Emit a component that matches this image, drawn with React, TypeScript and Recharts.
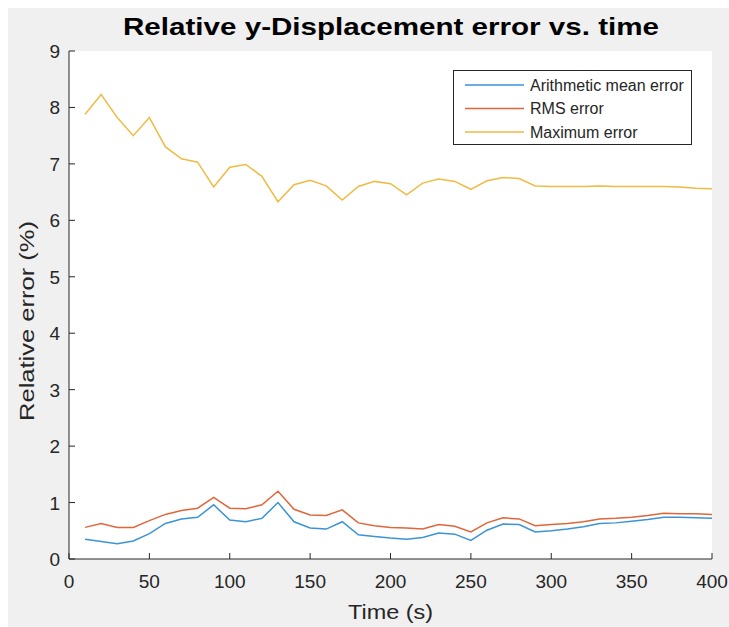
import React from 'react';
import { LineChart, Line, XAxis, YAxis, CartesianGrid, Legend } from 'recharts';

const timeS = [10, 20, 30, 40, 50, 60, 70, 80, 90, 100, 110, 120, 130, 140, 150, 160, 170, 180, 190, 200, 210, 220, 230, 240, 250, 260, 270, 280, 290, 300, 310, 320, 330, 340, 350, 360, 370, 380, 390, 400];
const meanErr = [0.35, 0.31, 0.27, 0.32, 0.45, 0.63, 0.71, 0.74, 0.96, 0.69, 0.66, 0.72, 1.0, 0.66, 0.55, 0.53, 0.66, 0.43, 0.4, 0.37, 0.35, 0.38, 0.46, 0.44, 0.33, 0.51, 0.62, 0.61, 0.48, 0.5, 0.53, 0.57, 0.63, 0.64, 0.67, 0.7, 0.74, 0.74, 0.73, 0.72];
const rmsErr = [0.56, 0.63, 0.56, 0.56, 0.68, 0.79, 0.86, 0.9, 1.09, 0.9, 0.89, 0.96, 1.2, 0.88, 0.78, 0.77, 0.87, 0.64, 0.59, 0.56, 0.55, 0.53, 0.61, 0.58, 0.48, 0.64, 0.73, 0.71, 0.59, 0.61, 0.63, 0.66, 0.71, 0.72, 0.74, 0.77, 0.81, 0.8, 0.8, 0.79];
const maxErr = [7.88, 8.23, 7.82, 7.5, 7.82, 7.3, 7.09, 7.03, 6.59, 6.94, 6.99, 6.78, 6.33, 6.63, 6.71, 6.61, 6.36, 6.6, 6.69, 6.65, 6.45, 6.66, 6.73, 6.69, 6.55, 6.7, 6.76, 6.74, 6.61, 6.6, 6.6, 6.6, 6.61, 6.6, 6.6, 6.6, 6.6, 6.59, 6.57, 6.56];

const xTicks = [0, 50, 100, 150, 200, 250, 300, 350, 400];
const yTicks = [0, 1, 2, 3, 4, 5, 6, 7, 8, 9];
const seriesNames = ['Arithmetic mean error', 'RMS error', 'Maximum error'];
const seriesKeys = ['mean', 'rms', 'max'];
const seriesColors = ['#3b93d8', '#e0663a', '#efbb43'];
const titleText = 'Relative y-Displacement error vs. time';
const xLabelText = 'Time (s)';
const yLabelText = 'Relative error (%)';

const data = timeS.map((t, i) => ({ t, mean: meanErr[i], rms: rmsErr[i], max: maxErr[i] }));

const FONT = '"Liberation Sans", Arial, Helvetica, sans-serif';
const AX = '#262626';
const TICK = 6;
const W = 721;
const H = 619;

function BottomTick(props: any) {
  const { x, y, payload } = props;
  return (
    <g>
      <line x1={x} y1={y} x2={x} y2={y - TICK} stroke={AX} strokeWidth={1} />
      <text x={x} y={y + 29} textAnchor="middle" fontSize={19} fontFamily={FONT} fill={AX}>
        {payload.value}
      </text>
    </g>
  );
}

function TopTick(props: any) {
  const { x, y } = props;
  return <line x1={x} y1={y} x2={x} y2={y + TICK} stroke={AX} strokeWidth={1} />;
}

function LeftTick(props: any) {
  const { x, y, payload } = props;
  return (
    <g>
      <line x1={x} y1={y} x2={x + TICK} y2={y} stroke={AX} strokeWidth={1} />
      <text x={x - 9} y={y + 7} textAnchor="end" fontSize={19} fontFamily={FONT} fill={AX}>
        {payload.value}
      </text>
    </g>
  );
}

function RightTick(props: any) {
  const { x, y } = props;
  return <line x1={x} y1={y} x2={x - TICK} y2={y} stroke={AX} strokeWidth={1} />;
}

function LegendBox() {
  const rowY = [15, 38.5, 62];
  return (
    <div style={{ width: 239, height: 75, boxSizing: 'border-box', border: `1px solid ${AX}`, background: '#fff' }}>
      <svg width={237} height={73} style={{ display: 'block' }}>
        {seriesNames.map((n, i) => (
          <g key={n}>
            <line x1={11} x2={70} y1={rowY[i] - 1} y2={rowY[i] - 1} stroke={seriesColors[i]} strokeWidth={1.5} />
            <text x={76} y={rowY[i] + 4.7} fontSize={16} fontFamily={FONT} fill={AX}>
              {n}
            </text>
          </g>
        ))}
      </svg>
    </div>
  );
}

export default function App() {
  return (
    <div style={{ position: 'fixed', left: 0, top: 0, width: 729, height: 627, overflow: 'hidden', background: '#ffffff' }}>
      <div style={{ position: 'absolute', left: 8, top: 8, width: W, height: H, background: '#f0f0f0' }}>
        <LineChart width={W} height={H} data={data} margin={{ top: 43, right: 17, bottom: 0, left: 0 }}>
          <CartesianGrid horizontal={false} vertical={false} fill="#ffffff" fillOpacity={1} stroke="none" />
          <XAxis
            dataKey="t"
            type="number"
            domain={[0, 400]}
            ticks={xTicks}
            interval={0}
            height={68}
            tickSize={0}
            tickMargin={0}
            tickLine={false}
            axisLine={{ stroke: AX, strokeWidth: 1 }}
            tick={<BottomTick />}
            allowDataOverflow
          />
          <XAxis
            xAxisId="top"
            orientation="top"
            dataKey="t"
            type="number"
            domain={[0, 400]}
            ticks={xTicks}
            interval={0}
            height={0}
            tickSize={0}
            tickMargin={0}
            tickLine={false}
            axisLine={{ stroke: AX, strokeWidth: 1 }}
            tick={<TopTick />}
            allowDataOverflow
          />
          <YAxis
            type="number"
            domain={[0, 9]}
            ticks={yTicks}
            interval={0}
            width={61}
            tickSize={0}
            tickMargin={0}
            tickLine={false}
            axisLine={{ stroke: AX, strokeWidth: 1 }}
            tick={<LeftTick />}
            allowDataOverflow
          />
          <YAxis
            yAxisId="right"
            orientation="right"
            type="number"
            domain={[0, 9]}
            ticks={yTicks}
            interval={0}
            width={0}
            tickSize={0}
            tickMargin={0}
            tickLine={false}
            axisLine={{ stroke: AX, strokeWidth: 1 }}
            tick={<RightTick />}
            allowDataOverflow
          />
          <Legend
            verticalAlign="middle"
            align="center"
            layout="horizontal"
            content={<LegendBox />}
            wrapperStyle={{ position: 'absolute', left: 445, top: 62, width: 239, height: 75 }}
          />
          {seriesKeys.map((k, i) => (
            <Line
              key={k}
              type="linear"
              dataKey={k}
              name={seriesNames[i]}
              stroke={seriesColors[i]}
              strokeWidth={1.5}
              dot={false}
              activeDot={false}
              isAnimationActive={false}
            />
          ))}
        </LineChart>
        <svg width={W} height={H} style={{ position: 'absolute', left: 0, top: 0, pointerEvents: 'none', overflow: 'visible' }}>
          <text x={383} y={27} textAnchor="middle" fontSize={24} fontWeight="bold" fontFamily={FONT} fill="#000" textLength={536} lengthAdjust="spacingAndGlyphs">
            {titleText}
          </text>
          <text x={382.5} y={611} textAnchor="middle" fontSize={21} fontFamily={FONT} fill={AX} textLength={85} lengthAdjust="spacingAndGlyphs">
            {xLabelText}
          </text>
          <text x={0} y={0} transform="translate(25.5 313) rotate(-90)" textAnchor="middle" fontSize={21} fontFamily={FONT} fill={AX} textLength={200} lengthAdjust="spacingAndGlyphs">
            {yLabelText}
          </text>
        </svg>
      </div>
    </div>
  );
}
